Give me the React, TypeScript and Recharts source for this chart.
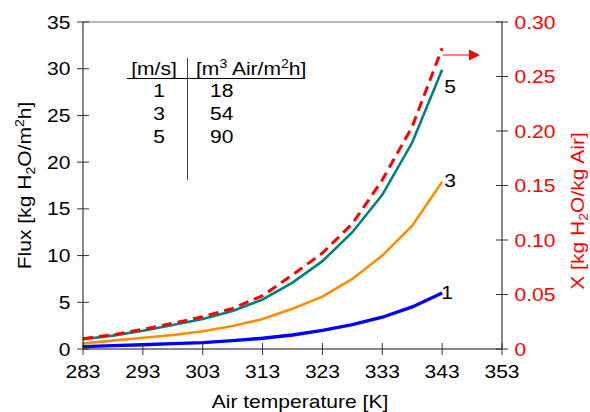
import React from 'react';
import { LineChart, Line, XAxis, YAxis, ReferenceLine, LabelList } from 'recharts';

const temps = [283, 288, 293, 298, 303, 308, 313, 318, 323, 328, 333, 338, 343];
const flux1 = [0.25, 0.36, 0.46, 0.57, 0.68, 0.9, 1.15, 1.5, 2.0, 2.6, 3.4, 4.5, 6.0];
const flux3 = [0.6, 0.9, 1.2, 1.5, 1.9, 2.46, 3.2, 4.3, 5.6, 7.5, 10.0, 13.2, 17.9];
const flux5 = [1.04, 1.43, 1.96, 2.57, 3.2, 4.07, 5.3, 7.1, 9.4, 12.5, 16.5, 22.1, 29.9];
const humidityX = [0.0095, 0.0131, 0.018, 0.0236, 0.0296, 0.0373, 0.0489, 0.068, 0.088, 0.115, 0.155, 0.204, 0.276];

const xTicks = [283, 293, 303, 313, 323, 333, 343, 353];
const fluxTicks = [0, 5, 10, 15, 20, 25, 30, 35];
const xRatioTicks = [0, 0.05, 0.1, 0.15, 0.2, 0.25, 0.3];

const speeds = ['1', '3', '5'];
const airFlows = ['18', '54', '90'];

const data = temps.map((t, i) => ({ t, f1: flux1[i], f3: flux3[i], f5: flux5[i], x: humidityX[i] }));

const FONT = 'Liberation Sans, Arial, sans-serif';
const FS = 18;
const SX = 1.17;
const TICK_COL = '#333';

const T = ({ x, y, rot = 0, anchor = 'start', fill = '#000', children }: any) => (
  <text
    x={0}
    y={0}
    transform={`translate(${x}, ${y}) rotate(${rot}) scale(${SX}, 1)`}
    textAnchor={anchor}
    fontSize={FS}
    fontFamily={FONT}
    fill={fill}
  >
    {children}
  </text>
);

const XTick = (p: any) => (
  <g>
    <line x1={p.x} x2={p.x} y1={p.y - 6} y2={p.y + 6} stroke={TICK_COL} strokeWidth={1} />
    <T x={p.x} y={p.y + 28.5} anchor="middle">{p.payload.value}</T>
  </g>
);

const LeftTick = (p: any) => (
  <g>
    <line x1={p.x - 6} x2={p.x + 6} y1={p.y} y2={p.y} stroke={TICK_COL} strokeWidth={1} />
    <T x={p.x - 12.5} y={p.y + 6.5} anchor="end">{p.payload.value}</T>
  </g>
);

const RightTick = (p: any) => (
  <g>
    <line x1={p.x - 6} x2={p.x + 6} y1={p.y} y2={p.y} stroke={TICK_COL} strokeWidth={1} />
    <T x={p.x + 12.5} y={p.y + 6.5} anchor="start" fill="#ff0000">
      {p.payload.value === 0 ? '0' : Number(p.payload.value).toFixed(2)}
    </T>
  </g>
);

const endLabel = (txt: string, dx: number, dy: number) => (p: any) => {
  if (p.index !== temps.length - 1) return null;
  return <T x={p.x + dx} y={p.y + dy}>{txt}</T>;
};

const LeftTitle = (p: any) => {
  const vb = p.viewBox || { y: 22, height: 327 };
  const cy = vb.y + vb.height / 2;
  return (
    <T x={30.5} y={cy} rot={-90} anchor="middle">
      Flux [kg H<tspan dy={4} fontSize={12}>2</tspan>
      <tspan dy={-4}>O/m</tspan>
      <tspan dy={-7} fontSize={12}>2</tspan>
      <tspan dy={7}>h]</tspan>
    </T>
  );
};

const RightTitle = () => (
  <T x={584} y={211} rot={-90} anchor="middle" fill="#ff0000">
    X [kg H<tspan dy={4} fontSize={12}>2</tspan>
    <tspan dy={-4}>O/kg Air]</tspan>
  </T>
);

const BottomTitle = () => (
  <T x={300} y={408} anchor="middle">Air temperature [K]</T>
);

export default function App() {
  return (
    <div style={{ position: 'absolute', left: 0, top: 0, width: 590, height: 412, background: '#fff' }}>
      <LineChart
        width={590}
        height={412}
        data={data}
        margin={{ top: 22, right: 28, bottom: 23, left: 23 }}
      >
        <XAxis
          dataKey="t"
          type="number"
          domain={[283, 353]}
          ticks={xTicks}
          tick={XTick}
          tickLine={false}
          tickSize={0}
          tickMargin={0}
          height={40}
          axisLine={{ stroke: '#111' }}
          label={{ content: BottomTitle }}
        />
        <YAxis
          yAxisId="left"
          domain={[0, 35]}
          ticks={fluxTicks}
          tick={LeftTick}
          tickLine={false}
          tickSize={0}
          tickMargin={0}
          width={60}
          axisLine={{ stroke: '#111' }}
          label={{ content: LeftTitle }}
        />
        <YAxis
          yAxisId="right"
          orientation="right"
          domain={[0, 0.3]}
          ticks={xRatioTicks}
          tick={RightTick}
          tickLine={false}
          tickSize={0}
          tickMargin={0}
          width={60}
          axisLine={{ stroke: '#111' }}
          label={{ content: RightTitle }}
        />
        <ReferenceLine yAxisId="left" y={35} stroke="#777" strokeWidth={1} />
        <Line yAxisId="left" type="linear" dataKey="f1" stroke="#0000ff" strokeWidth={3.4} dot={false} isAnimationActive={false}>
          <LabelList dataKey="f1" content={endLabel(speeds[0], -1, 6)} />
        </Line>
        <Line yAxisId="left" type="linear" dataKey="f3" stroke="#ff8c00" strokeWidth={2.6} dot={false} isAnimationActive={false}>
          <LabelList dataKey="f3" content={endLabel(speeds[1], 2, 5)} />
        </Line>
        <Line yAxisId="left" type="linear" dataKey="f5" stroke="#008080" strokeWidth={2.6} dot={false} isAnimationActive={false}>
          <LabelList dataKey="f5" content={endLabel(speeds[2], 2, 23)} />
        </Line>
        <Line yAxisId="right" type="linear" dataKey="x" stroke="#ff0000" strokeWidth={3} strokeDasharray="10 6" dot={false} isAnimationActive={false} />
      </LineChart>
      <svg
        width={590}
        height={412}
        style={{ position: 'absolute', left: 0, top: 0, pointerEvents: 'none' }}
      >
        <T x={154} y={74.5} anchor="middle">[m/s]</T>
        <T x={196} y={74.5}>
          [m<tspan dy={-7} fontSize={12}>3</tspan>
          <tspan dy={7}> Air/m</tspan>
          <tspan dy={-7} fontSize={12}>2</tspan>
          <tspan dy={7}>h]</tspan>
        </T>
        <line x1={127} x2={302} y1={78.5} y2={78.5} stroke="#000" strokeWidth={1.2} />
        <line x1={187.5} x2={187.5} y1={58} y2={180} stroke="#444" strokeWidth={1} />
        {speeds.map((s, i) => (
          <g key={s}>
            <T x={159} y={97 + i * 23} anchor="middle">{s}</T>
            <T x={210} y={97 + i * 23}>{airFlows[i]}</T>
          </g>
        ))}
        <line x1={443} x2={471} y1={55} y2={55} stroke="#ff0000" strokeWidth={1} />
        <polygon points="469,49.5 480,55 469,60.5" fill="#ff0000" />
      </svg>
    </div>
  );
}
